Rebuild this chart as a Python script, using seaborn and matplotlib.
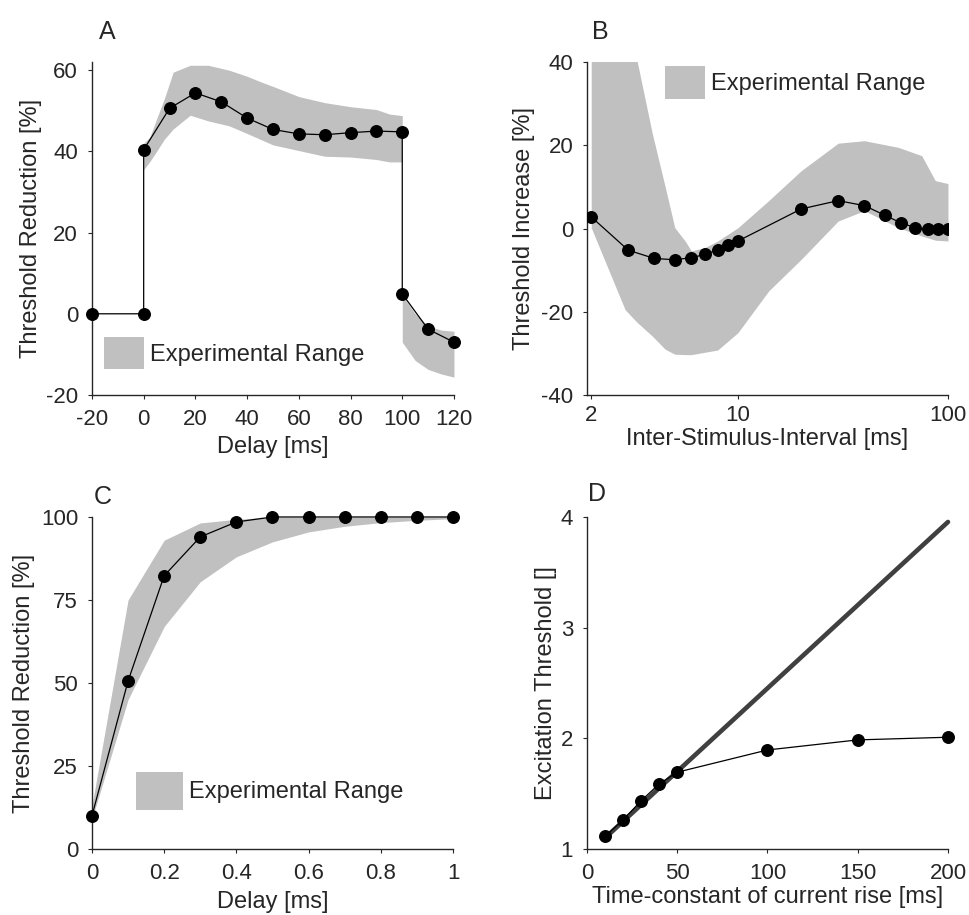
import matplotlib
matplotlib.use('Agg')
import matplotlib.pyplot as plt
from matplotlib.ticker import NullLocator
import seaborn as sns

# Panel A: threshold reduction vs delay
a_delay = [-20, 0, 0, 10, 20, 30, 40, 50, 60, 70, 80, 90, 100, 100, 110, 120]
a_reduction = [0, 0, 40.4, 50.6, 54.4, 52.2, 48.2, 45.4, 44.3, 44.1, 44.6, 45.0, 44.8, 4.9, -3.8, -7.0]
a_band_x = [0, 2.4, 5, 8, 11.4, 18, 25, 33, 40, 45, 50, 60, 70, 80, 90, 95, 100, 100, 105, 110, 115, 120]
a_band_hi = [42, 43.5, 48, 53, 59.5, 61.2, 61.2, 60.0, 58.5, 57.2, 56.0, 53.5, 52.0, 51.0, 50.3, 49.2, 48.8,
             4.5, 0.0, -3.0, -4.0, -4.3]
a_band_lo = [35.5, 37.5, 40, 43, 45.5, 48.9, 47.5, 46.3, 44.4, 43.0, 41.6, 40.2, 38.8, 38.6, 38.0, 37.4, 37.4,
             -7.0, -11.5, -13.7, -14.8, -15.6]

# Panel B: threshold increase vs inter-stimulus interval
b_isi = [2, 3, 4, 5, 6, 7, 8, 9, 10, 20, 30, 40, 50, 60, 70, 80, 90, 100]
b_increase = [2.8, -5.2, -7.2, -7.5, -7.0, -6.2, -5.1, -3.9, -3.0, 4.7, 6.7, 5.5, 3.2, 1.3, 0.2, -0.2, -0.2, -0.2]
b_band_x = [2, 2.9, 3.3, 3.9, 4.5, 5.0, 5.6, 6.0, 7.0, 8.0, 10, 14, 20, 30, 40, 58, 75, 87, 100]
b_band_hi = [45, 45, 40.5, 23, 10, 0.2, -3, -5.4, -4.5, -3, 0.2, 6.7, 13.9, 20.5, 21.1, 19.5, 17.5, 11.5, 10.8]
b_band_lo = [0.2, -19.5, -22.5, -25.8, -29, -30.2, -30.3, -30.3, -29.7, -29.2, -25, -15, -7.4, 1.8, 4.3,
             0.2, -1.8, -2.8, -3]

# Panel C: threshold reduction vs delay (short)
c_delay = [0, 0.1, 0.2, 0.3, 0.4, 0.5, 0.6, 0.7, 0.8, 0.9, 1.0]
c_reduction = [10.0, 50.6, 82.3, 94.0, 98.5, 100, 100, 100, 100, 100, 100]
c_band_hi = [13, 75, 93, 98.2, 99.3, 100, 100, 100, 100, 100, 100]
c_band_lo = [9, 45, 67, 80.5, 88, 92.5, 95.5, 97.2, 98.3, 99, 99.5]

# Panel D: excitation threshold vs time constant of current rise
d_tau = [10, 20, 30, 40, 50, 100, 150, 200]
d_threshold = [1.114, 1.264, 1.436, 1.589, 1.694, 1.895, 1.986, 2.010]
d_line_x = [10, 200]
d_line_y = [1.10, 3.955]

sns.set_theme(style='ticks')
plt.rcParams['font.family'] = ['Liberation Sans', 'DejaVu Sans']
plt.rcParams['axes.unicode_minus'] = False
ink = '#262626'
band = '#c0c0c0'

fig = plt.figure(figsize=(9.69, 9.15), dpi=100)
axA = fig.add_axes([0.0949, 0.5683, 0.3736, 0.3639])
axB = fig.add_axes([0.6058, 0.5683, 0.3725, 0.3639])
axC = fig.add_axes([0.0949, 0.0721, 0.3726, 0.3629])
axD = fig.add_axes([0.6058, 0.0721, 0.3725, 0.3629])


def style(ax, xlabel, ylabel, ylab_x, xlab_y, xpad=7):
    sns.despine(ax=ax)
    for s in ['left', 'bottom']:
        ax.spines[s].set_color(ink)
        ax.spines[s].set_linewidth(1.0)
    ax.tick_params(direction='out', length=3, width=0.8, colors=ink, labelsize=16, pad=7)
    ax.tick_params(axis='x', pad=xpad)
    ax.set_xlabel(xlabel, fontsize=17, color=ink)
    ax.set_ylabel(ylabel, fontsize=17, color=ink)
    ax.yaxis.set_label_coords(ylab_x, 0.5)
    ax.xaxis.set_label_coords(0.5, xlab_y)


def model_line(ax, x, y, clip=False):
    sns.lineplot(x=x, y=y, ax=ax, color='black', linewidth=0.9, marker='o', markersize=8.5,
                 markeredgecolor='black', markeredgewidth=0.8, estimator=None, sort=False,
                 clip_on=clip, zorder=3)


def band_legend(ax, patch, anchor, hl, hh):
    ax.legend(handles=[patch], labels=['Experimental Range'], frameon=False, fontsize=17,
              loc='center left', bbox_to_anchor=anchor, borderpad=0, borderaxespad=0,
              handlelength=hl, handleheight=hh, handletextpad=0.25, labelcolor=ink)


# A
pA = axA.fill_between(a_band_x, a_band_lo, a_band_hi, color=band, linewidth=0)
model_line(axA, a_delay, a_reduction)
axA.set_xlim(-20, 120)
axA.set_ylim(-20, 62)
axA.set_xticks([-20, 0, 20, 40, 60, 80, 100, 120])
axA.set_yticks([-20, 0, 20, 40, 60])
style(axA, 'Delay [ms]', 'Threshold Reduction [%]', -0.138, -0.123)
band_legend(axA, pA, (0.033, 0.126), 1.7, 1.74)

# B
pB = axB.fill_between(b_band_x, b_band_lo, b_band_hi, color=band, linewidth=0)
model_line(axB, b_isi, b_increase, clip=True)
axB.set_xscale('log')
axB.set_xlim(1.91, 100)
axB.set_ylim(-40, 40)
axB.set_xticks([2, 10, 100])
axB.set_xticklabels(['2', '10', '100'])
axB.xaxis.set_minor_locator(NullLocator())
axB.set_yticks([-40, -20, 0, 20, 40])
style(axB, 'Inter-Stimulus-Interval [ms]', 'Threshold Increase [%]', -0.144, -0.1, xpad=4)
band_legend(axB, pB, (0.216, 0.938), 1.7, 1.74)

# C
pC = axC.fill_between(c_delay, c_band_lo, c_band_hi, color=band, linewidth=0)
model_line(axC, c_delay, c_reduction)
axC.set_xlim(0, 1)
axC.set_ylim(0, 100)
axC.set_xticks([0, 0.2, 0.4, 0.6, 0.8, 1.0])
axC.set_xticklabels(['0', '0.2', '0.4', '0.6', '0.8', '1'])
axC.set_yticks([0, 25, 50, 75, 100])
style(axC, 'Delay [ms]', 'Threshold Reduction [%]', -0.158, -0.127)
band_legend(axC, pC, (0.122, 0.175), 2.0, 2.1)

# D
sns.lineplot(x=d_line_x, y=d_line_y, ax=axD, color='#404040', linewidth=3.3, clip_on=False, zorder=2)
model_line(axD, d_tau, d_threshold)
axD.set_xlim(0, 200)
axD.set_ylim(1, 4)
axD.set_xticks([0, 50, 100, 150, 200])
axD.set_yticks([1, 2, 3, 4])
style(axD, 'Time-constant of current rise [ms]', 'Excitation Threshold []', -0.083, -0.111)

# Panel letters
for letter, x, y in [('A', 0.1104, 0.965), ('B', 0.620, 0.965), ('C', 0.1063, 0.457), ('D', 0.616, 0.460)]:
    fig.text(x, y, letter, fontsize=18, color=ink, ha='center', va='center')

fig.savefig('out.png', dpi=100)
